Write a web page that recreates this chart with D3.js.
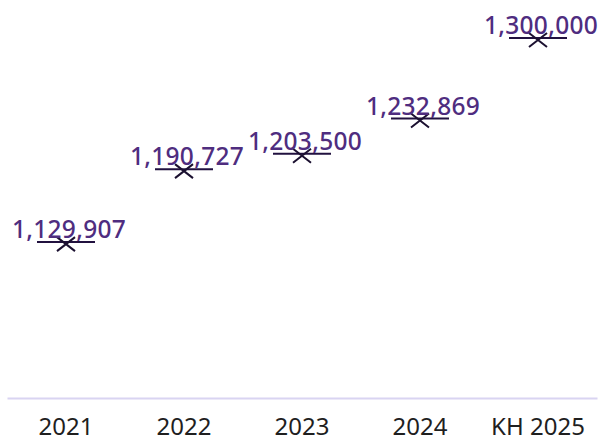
<!DOCTYPE html>
<html>
<head>
<meta charset="utf-8">
<script src="https://cdn.jsdelivr.net/npm/d3@7"></script>
<style>
  html, body { margin: 0; padding: 0; background: #fff; }
  svg { display: block; }
</style>
</head>
<body>
<div id="chart"></div>
<script>
// Chart data
const categories = ["2021", "2022", "2023", "2024", "KH 2025"];
const values = [1129907, 1190727, 1203500, 1232869, 1300000];
const yDomain = [1000000, 1300000];

const width = 610;
const height = 442;
const margin = { top: 38, right: 13, bottom: 44, left: 7 };

const svg = d3
  .select("#chart")
  .append("svg")
  .attr("width", width)
  .attr("height", height);

// Scales
const xScale = d3
  .scaleBand()
  .domain(categories)
  .range([margin.left, width - margin.right]);

const yScale = d3
  .scaleLinear()
  .domain(yDomain)
  .range([height - margin.bottom, margin.top]);

const fmt = d3.format(",");
const data = categories.map((c, i) => ({ cat: c, value: values[i] }));

// Bottom axis
const xAxis = svg
  .append("g")
  .attr("transform", `translate(0,${height - margin.bottom})`)
  .call(d3.axisBottom(xScale).tickSize(0).tickPadding(20));

xAxis.select(".domain").attr("stroke", "#d9d4f2").attr("stroke-width", 2);
xAxis
  .selectAll("text")
  .attr("fill", "#1f1f1f")
  .style("font-family", "'Noto Sans', sans-serif")
  .style("font-size", "24px");

// Markers: horizontal bar with an X
const g = svg.append("g");
const cx = (d) => xScale(d.cat) + xScale.bandwidth() / 2;

g.selectAll(".bar")
  .data(data)
  .enter()
  .append("line")
  .attr("x1", (d) => cx(d) - 29)
  .attr("x2", (d) => cx(d) + 29)
  .attr("y1", (d) => yScale(d.value))
  .attr("y2", (d) => yScale(d.value))
  .attr("stroke", "#21113f")
  .attr("stroke-width", 2);

g.selectAll(".cross")
  .data(data)
  .enter()
  .append("path")
  .attr("d", (d) => {
    const x = cx(d);
    const y = yScale(d.value) + 2;
    return `M${x - 9},${y - 7}L${x + 9},${y + 7}M${x - 9},${y + 7}L${x + 9},${y - 7}`;
  })
  .attr("fill", "none")
  .attr("stroke", "#1b1030")
  .attr("stroke-width", 2);

// Value labels
g.selectAll(".label")
  .data(data)
  .enter()
  .append("text")
  .attr("x", (d) => cx(d) + 3)
  .attr("y", (d) => yScale(d.value) - 4)
  .attr("text-anchor", "middle")
  .attr("fill", "#4f2d7f")
  .style("font-family", "'Noto Sans', sans-serif")
  .style("font-weight", 500)
  .style("font-size", "24.5px")
  .style("letter-spacing", "0.3px")
  .text((d) => fmt(d.value));
</script>
</body>
</html>
